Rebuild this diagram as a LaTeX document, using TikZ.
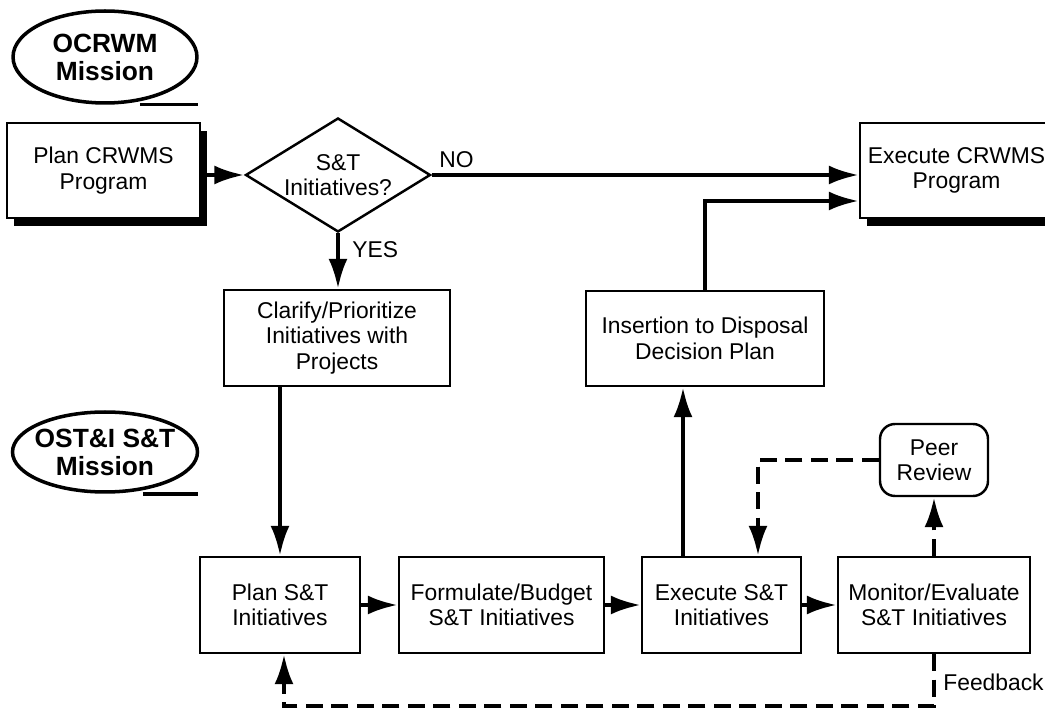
\documentclass[tikz,border=0pt]{standalone}
\usepackage{fontspec}
\setmainfont{Liberation Sans}
\usetikzlibrary{arrows.meta,shapes.geometric,shadows}

\begin{document}
\begin{tikzpicture}[x=0.02cm,y=-0.02cm,
	box/.style={draw,line width=1.4pt,align=center,inner sep=0pt,font=\fontsize{13}{14.5}\selectfont},
	shbox/.style={box,fill=white,drop shadow={shadow xshift=0.14cm,shadow yshift=-0.16cm,fill=black,opacity=1}},
	mission/.style={ellipse,draw,line width=2pt,align=center,inner ysep=0pt,inner xsep=-0.3cm,font=\fontsize{15}{16}\selectfont\bfseries},
	lbl/.style={inner sep=0pt,font=\fontsize{13}{14.5}\selectfont},
	arr/.style={line width=2.3pt,-{Latex[length=0.6cm,width=0.38cm]}},
	dasharr/.style={arr,dash pattern=on 0.34cm off 0.17cm}]
\useasboundingbox (0,0) rectangle (1045,712);

% missions
\node[mission,minimum width=3.68cm,minimum height=1.84cm] (ocrwm) at (105,57) {OCRWM\\Mission};
\draw[line width=2pt] ([xshift=0.7cm]ocrwm.south) -- ([xshift=1.86cm]ocrwm.south);
\node[mission,minimum width=3.7cm,minimum height=1.6cm] (ostmission) at (105,452) {OST\&I S\&T\\Mission};
\draw[line width=2pt] ([xshift=0.76cm]ostmission.south) -- ([xshift=1.86cm]ostmission.south);

% program level
\node[shbox,minimum width=3.86cm,minimum height=1.9cm] (pcrwms) at (103.5,170.5) {Plan CRWMS\\Program};
\node[diamond,draw,line width=1.4pt,aspect=1.62,minimum width=3.7cm,minimum height=2.28cm,inner sep=0pt,align=center,font=\fontsize{13}{14.5}\selectfont] (q) at (338,175) {S\&T\\Initiatives?};
\node[shbox,minimum width=3.86cm,minimum height=1.9cm] (ecrwms) at (956.5,170.5) {Execute CRWMS\\Program};
\node[box,minimum width=4.52cm,minimum height=1.92cm] (clarify) at (337,338) {Clarify/Prioritize\\Initiatives with\\Projects};
\node[box,minimum width=4.76cm,minimum height=1.9cm] (insert) at (705,338.5) {Insertion to Disposal\\Decision Plan};
\node[box,rounded corners=0.3cm,minimum width=2.16cm,minimum height=1.44cm] (peer) at (934,460) {Peer\\Review};

% S&T level
\node[box,minimum width=3.2cm,minimum height=1.92cm] (plansnt) at (280,605) {Plan S\&T\\Initiatives};
\node[box,minimum width=4.1cm,minimum height=1.92cm] (budget) at (501.5,605) {Formulate/Budget\\S\&T Initiatives};
\node[box,minimum width=3.18cm,minimum height=1.92cm] (execsnt) at (721.5,605) {Execute S\&T\\Initiatives};
\node[box,minimum width=3.84cm,minimum height=1.92cm] (monitor) at (934,605) {Monitor/Evaluate\\S\&T Initiatives};

% labels
\node[lbl,anchor=west] (no) at (439,160) {NO};
\node[lbl,anchor=west] (yes) at (352,250) {YES};
\node[lbl,anchor=west] (fbtext) at (943,682) {Feedback};
\coordinate (fb) at (933,706);

% connectors
\draw[arr] (pcrwms.east |- q.west) -- (q.west);
\draw[arr] (q.east) -- (q.east -| ecrwms.west);
\draw[arr] (q.south) -- (q.south |- clarify.north);
\draw[arr] (plansnt.north |- clarify.south) -- (plansnt.north);
\draw[arr] (plansnt.east) -- (budget.west);
\draw[arr] (budget.west -| budget.east) -- (execsnt.west);
\draw[arr] (execsnt.east) -- (monitor.west);
\draw[arr] ([xshift=-0.77cm]execsnt.north) -- ([xshift=-0.77cm]execsnt.north |- insert.south);
\draw[arr] (insert.north) |- ([yshift=-0.61cm]ecrwms.west);
\draw[dasharr] (monitor.north) -- (peer.south);
\draw[dasharr] (peer.west) -| ([xshift=0.73cm]execsnt.north);
\draw[dasharr] (monitor.south) -- (monitor.south |- fb) -| ([xshift=0.08cm]plansnt.south);

\end{tikzpicture}
\end{document}
